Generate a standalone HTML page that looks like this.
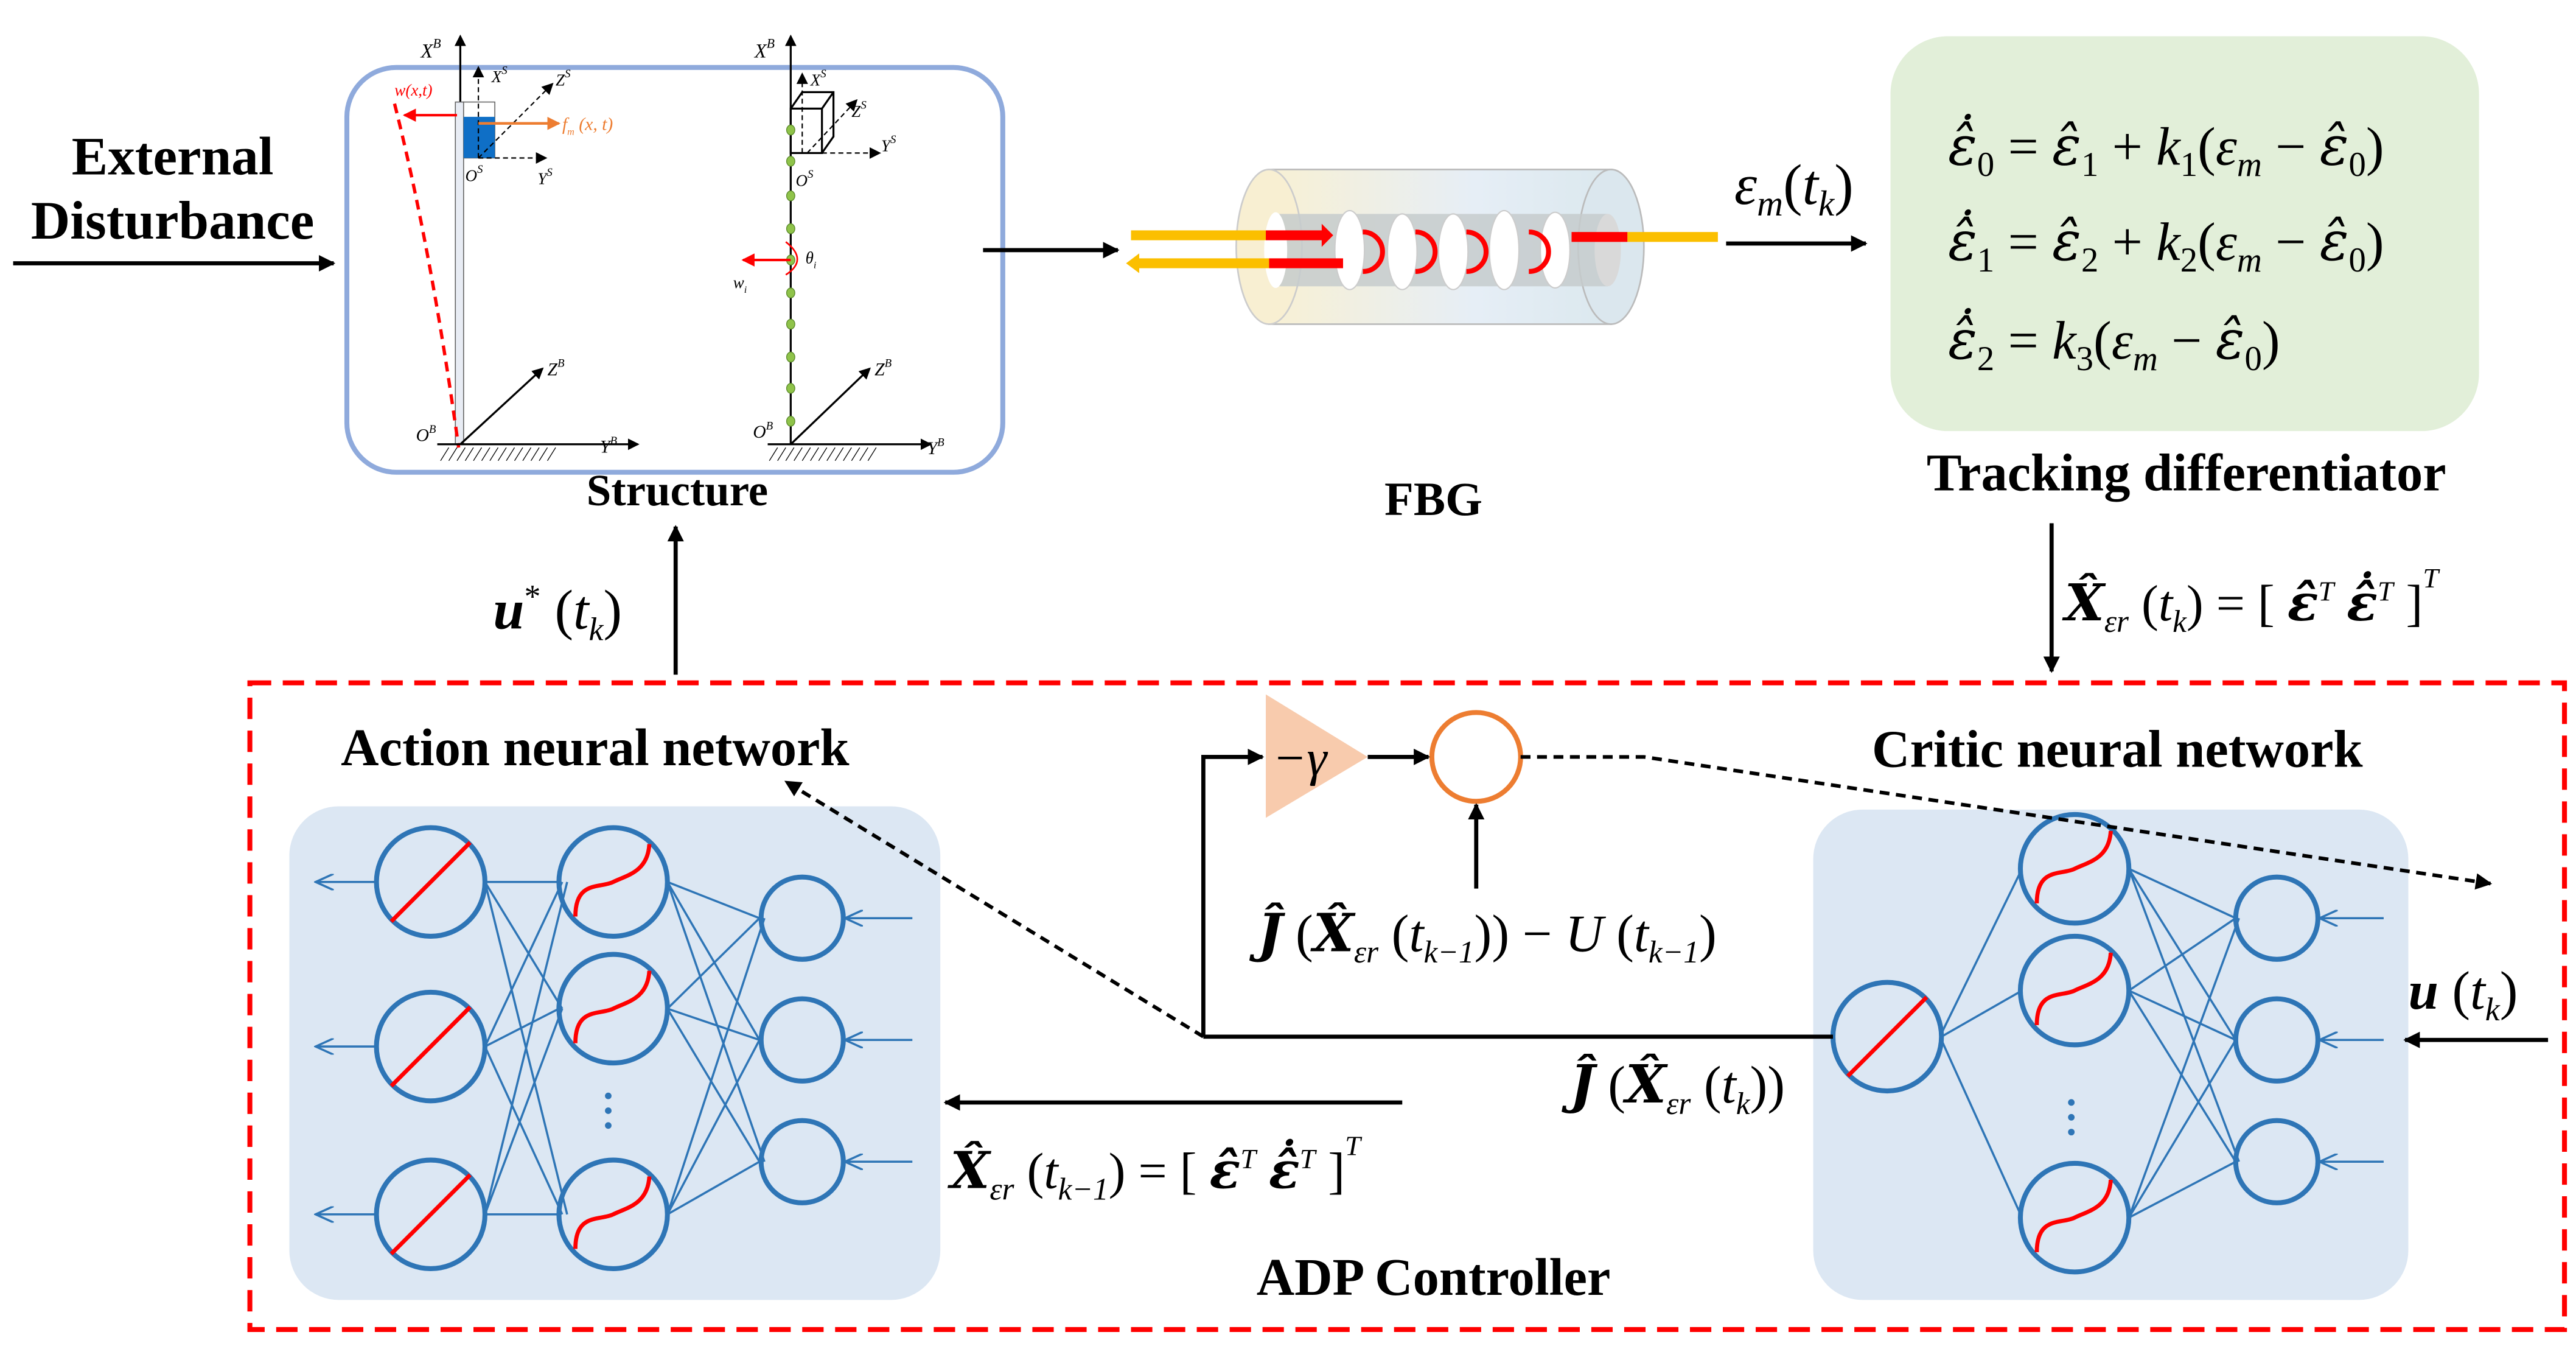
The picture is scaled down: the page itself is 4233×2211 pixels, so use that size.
<!DOCTYPE html>
<html><head><meta charset="utf-8"><style>
html,body{margin:0;padding:0;background:#fff}
svg{display:block}
text{font-family:"Liberation Serif","DejaVu Serif",serif}
.b{font-weight:bold}
.i{font-style:italic}
.h{font-family:"DejaVu Serif",serif}
.n{font-style:normal;font-weight:normal}
.n.i{font-style:italic}
</style></head><body>
<svg width="4233" height="2211" viewBox="0 0 1567 818" preserveAspectRatio="none" xmlns="http://www.w3.org/2000/svg">
<defs>
<marker id="ah" markerWidth="10" markerHeight="10" refX="9" refY="5" orient="auto" markerUnits="userSpaceOnUse"><path d="M0,0 L10,5 L0,10 z" fill="#000"/></marker>
<marker id="ahs" markerWidth="7" markerHeight="7" refX="6" refY="3.5" orient="auto" markerUnits="userSpaceOnUse"><path d="M0,0 L7,3.5 L0,7 z" fill="#000"/></marker>
<marker id="ahb" markerWidth="12" markerHeight="10" refX="11" refY="5" orient="auto" markerUnits="userSpaceOnUse"><path d="M0,0 L11,5 L0,10" fill="none" stroke="#2e75b6" stroke-width="1.3"/></marker>
<marker id="ahr" markerWidth="8" markerHeight="8" refX="7" refY="4" orient="auto" markerUnits="userSpaceOnUse"><path d="M0,0 L8,4 L0,8 z" fill="red"/></marker>
<marker id="aho" markerWidth="8" markerHeight="8" refX="7" refY="4" orient="auto" markerUnits="userSpaceOnUse"><path d="M0,0 L8,4 L0,8 z" fill="#ed7d31"/></marker>
<linearGradient id="cyl" x1="0" x2="1"><stop offset="0" stop-color="#f8f0d4"/><stop offset="0.6" stop-color="#e6eef6"/><stop offset="1" stop-color="#dbe8ee"/></linearGradient>
</defs>

<text x="105" y="106" class="b" font-size="33" text-anchor="middle">External</text>
<text x="105" y="145" class="b" font-size="33" text-anchor="middle">Disturbance</text>
<line x1="8" y1="160" x2="203" y2="160" stroke="#000" stroke-width="2.5" marker-end="url(#ah)"/>

<rect x="211" y="41" width="399" height="246" rx="30" fill="#fff" stroke="#8faadc" stroke-width="3"/>
<line x1="280" y1="270" x2="280" y2="22" stroke="#000" stroke-width="1.2" marker-end="url(#ahs)"/>
<text x="256" y="35" class="i" font-size="12">X<tspan font-size="8" dy="-6">B</tspan></text>
<rect x="277" y="62" width="5" height="208" fill="#e8ecf4" stroke="#666" stroke-width="0.6"/>
<rect x="282" y="62" width="19" height="34" fill="#fff" stroke="#666" stroke-width="0.6"/>
<rect x="282" y="71" width="19" height="25" fill="#0f6fc6"/>
<line x1="291" y1="96" x2="291" y2="41" stroke="#000" stroke-width="0.8" stroke-dasharray="3,2" marker-end="url(#ahs)"/>
<text x="299" y="50" class="i" font-size="10">X<tspan font-size="7" dy="-5">S</tspan></text>
<line x1="291" y1="96" x2="332" y2="96" stroke="#000" stroke-width="0.8" stroke-dasharray="3,2" marker-end="url(#ahs)"/>
<text x="327" y="112" class="i" font-size="10">Y<tspan font-size="7" dy="-5">S</tspan></text>
<line x1="291" y1="96" x2="336" y2="51" stroke="#000" stroke-width="0.8" stroke-dasharray="3,2" marker-end="url(#ahs)"/>
<text x="338" y="52" class="i" font-size="10">Z<tspan font-size="7" dy="-5">S</tspan></text>
<text x="283" y="110" class="i" font-size="10">O<tspan font-size="7" dy="-5">S</tspan></text>
<line x1="291" y1="75" x2="340" y2="75" stroke="#ed7d31" stroke-width="1.6" marker-end="url(#aho)"/>
<text x="342" y="79" class="i" font-size="11" fill="#ed7d31">f<tspan font-size="6" dy="3">m</tspan><tspan dy="-3"> (x, t)</tspan></text>
<line x1="278" y1="70" x2="246" y2="70" stroke="red" stroke-width="1.5" marker-end="url(#ahr)"/>
<text x="240" y="58" class="i" font-size="10" fill="red">w(x,t)</text>
<path d="M240,63 Q262,150 279,272" fill="none" stroke="red" stroke-width="2" stroke-dasharray="6,4"/>
<line x1="266" y1="270" x2="388" y2="270" stroke="#000" stroke-width="1.2" marker-end="url(#ahs)"/>
<text x="365" y="275" class="i" font-size="11">Y<tspan font-size="7" dy="-5">B</tspan></text>
<line x1="280" y1="270" x2="330" y2="224" stroke="#000" stroke-width="1.2" marker-end="url(#ahs)"/>
<text x="333" y="228" class="i" font-size="11">Z<tspan font-size="7" dy="-5">B</tspan></text>
<text x="253" y="268" class="i" font-size="11">O<tspan font-size="7" dy="-5">B</tspan></text>
<path d="M268,280 l5,-8 M273,280 l5,-8 M278,280 l5,-8 M283,280 l5,-8 M288,280 l5,-8 M293,280 l5,-8 M298,280 l5,-8 M303,280 l5,-8 M308,280 l5,-8 M313,280 l5,-8 M318,280 l5,-8 M323,280 l5,-8 M328,280 l5,-8 M333,280 l5,-8" stroke="#000" stroke-width="0.5"/>
<line x1="481" y1="270" x2="481" y2="22" stroke="#000" stroke-width="1.2" marker-end="url(#ahs)"/>
<text x="459" y="35" class="i" font-size="12">X<tspan font-size="8" dy="-6">B</tspan></text>
<line x1="488" y1="93" x2="488" y2="45" stroke="#000" stroke-width="0.8" stroke-dasharray="3,2" marker-end="url(#ahs)"/>
<text x="493" y="52" class="i" font-size="10">X<tspan font-size="7" dy="-5">S</tspan></text>
<path d="M481,66 l7,-10 h19 v27 l-7,10 M500,66 l7,-10" fill="none" stroke="#000" stroke-width="1.2"/>
<rect x="481" y="66" width="19" height="27" fill="none" stroke="#000" stroke-width="1.2"/>
<line x1="500" y1="93" x2="535" y2="93" stroke="#000" stroke-width="0.8" stroke-dasharray="3,2" marker-end="url(#ahs)"/>
<text x="536" y="92" class="i" font-size="10">Y<tspan font-size="7" dy="-5">S</tspan></text>
<line x1="491" y1="93" x2="521" y2="61" stroke="#000" stroke-width="0.8" stroke-dasharray="3,2" marker-end="url(#ahs)"/>
<text x="518" y="71" class="i" font-size="10">Z<tspan font-size="7" dy="-5">S</tspan></text>
<text x="484" y="113" class="i" font-size="10">O<tspan font-size="7" dy="-5">S</tspan></text>
<g fill="#8fc34a" stroke="#5a8a2a" stroke-width="0.5">
<ellipse cx="481" cy="79" rx="2.5" ry="3"/><ellipse cx="481" cy="98" rx="2.5" ry="3"/><ellipse cx="481" cy="119" rx="2.5" ry="3"/><ellipse cx="481" cy="139" rx="2.5" ry="3"/><ellipse cx="481" cy="158" rx="2.5" ry="3"/><ellipse cx="481" cy="178" rx="2.5" ry="3"/><ellipse cx="481" cy="197" rx="2.5" ry="3"/><ellipse cx="481" cy="217" rx="2.5" ry="3"/><ellipse cx="481" cy="236" rx="2.5" ry="3"/><ellipse cx="481" cy="256" rx="2.5" ry="3"/>
</g>
<line x1="481" y1="158" x2="452" y2="158" stroke="red" stroke-width="1.5" marker-end="url(#ahr)"/>
<path d="M478,147 Q492,158 478,167" fill="none" stroke="red" stroke-width="1"/>
<text x="490" y="160" class="i" font-size="10">θ<tspan font-size="6" dy="3">i</tspan></text>
<text x="446" y="175" class="i" font-size="10">w<tspan font-size="6" dy="3">i</tspan></text>
<line x1="467" y1="270" x2="566" y2="270" stroke="#000" stroke-width="1.2" marker-end="url(#ahs)"/>
<text x="564" y="276" class="i" font-size="11">Y<tspan font-size="7" dy="-5">B</tspan></text>
<line x1="481" y1="270" x2="529" y2="224" stroke="#000" stroke-width="1.2" marker-end="url(#ahs)"/>
<text x="532" y="228" class="i" font-size="11">Z<tspan font-size="7" dy="-5">B</tspan></text>
<text x="458" y="266" class="i" font-size="11">O<tspan font-size="7" dy="-5">B</tspan></text>
<path d="M468,280 l5,-8 M473,280 l5,-8 M478,280 l5,-8 M483,280 l5,-8 M488,280 l5,-8 M493,280 l5,-8 M498,280 l5,-8 M503,280 l5,-8 M508,280 l5,-8 M513,280 l5,-8 M518,280 l5,-8 M523,280 l5,-8 M528,280 l5,-8" stroke="#000" stroke-width="0.5"/>
<text x="412" y="307" class="b" font-size="27" text-anchor="middle">Structure</text>

<line x1="598" y1="152" x2="680" y2="152" stroke="#000" stroke-width="2.5" marker-end="url(#ah)"/>

<rect x="772" y="103" width="208" height="94" fill="url(#cyl)" stroke="#bbb" stroke-width="1"/>
<ellipse cx="980" cy="150" rx="20" ry="47" fill="#dbe7ee" stroke="#bbb" stroke-width="1"/>
<ellipse cx="772" cy="150" rx="20" ry="47" fill="#f8efd2" stroke="#ccc" stroke-width="1"/>
<rect x="774" y="130" width="204" height="44" fill="#c5cbcc" opacity="0.85"/>
<ellipse cx="776" cy="152" rx="7" ry="23" fill="#fff"/>
<ellipse cx="978" cy="152" rx="8" ry="22" fill="#d9d9d9"/>
<g fill="#fff" stroke="#ccc" stroke-width="0.8">
<ellipse cx="821" cy="152" rx="9" ry="24"/><ellipse cx="853" cy="153" rx="9" ry="23"/><ellipse cx="884" cy="153" rx="9" ry="23"/><ellipse cx="915" cy="152" rx="9" ry="24"/><ellipse cx="946" cy="152" rx="9" ry="23"/>
</g>
<g fill="none" stroke="red" stroke-width="3">
<path d="M829,141 a12,12 0 0 1 0,24"/><path d="M861,141 a12,12 0 0 1 0,24"/><path d="M892,141 a12,12 0 0 1 0,24"/><path d="M930,141 a12,12 0 0 1 0,24"/>
</g>
<rect x="688" y="140" width="82" height="6" fill="#fbbf00"/>
<rect x="770" y="140" width="35" height="6" fill="red"/>
<path d="M804,136 L811,143 L804,150 z" fill="red"/>
<rect x="692" y="157" width="80" height="6" fill="#fbbf00"/>
<path d="M685,160 L693,154 L693,166 z" fill="#fbbf00"/>
<rect x="772" y="157" width="45" height="6" fill="red"/>
<rect x="956" y="141" width="34" height="6" fill="red"/>
<rect x="990" y="141" width="55" height="6" fill="#fbbf00"/>
<text x="872" y="313" class="b" font-size="29" text-anchor="middle">FBG</text>

<text x="1055" y="124" class="i" font-size="35">ε<tspan font-size="22" dy="7">m</tspan><tspan dy="-7" class="n">(</tspan>t<tspan font-size="22" dy="7">k</tspan><tspan dy="-7" class="n">)</tspan></text>
<line x1="1050" y1="148" x2="1135" y2="148" stroke="#000" stroke-width="2.5" marker-end="url(#ah)"/>

<rect x="1150" y="22" width="358" height="240" rx="35" fill="#e2efd9"/>
<g class="i" font-size="33">
<text x="1185" y="100"><tspan class="h">ε̂̇</tspan><tspan font-size="21" dy="7" class="n">0</tspan><tspan dy="-7" class="n"> = </tspan><tspan class="h">ε̂</tspan><tspan font-size="21" dy="7" class="n">1</tspan><tspan dy="-7" class="n"> + </tspan>k<tspan font-size="21" dy="7" class="n">1</tspan><tspan dy="-7" class="n">(</tspan>ε<tspan font-size="21" dy="7">m</tspan><tspan dy="-7" class="n"> − </tspan><tspan class="h">ε̂</tspan><tspan font-size="21" dy="7" class="n">0</tspan><tspan dy="-7" class="n">)</tspan></text>
<text x="1185" y="158"><tspan class="h">ε̂̇</tspan><tspan font-size="21" dy="7" class="n">1</tspan><tspan dy="-7" class="n"> = </tspan><tspan class="h">ε̂</tspan><tspan font-size="21" dy="7" class="n">2</tspan><tspan dy="-7" class="n"> + </tspan>k<tspan font-size="21" dy="7" class="n">2</tspan><tspan dy="-7" class="n">(</tspan>ε<tspan font-size="21" dy="7">m</tspan><tspan dy="-7" class="n"> − </tspan><tspan class="h">ε̂</tspan><tspan font-size="21" dy="7" class="n">0</tspan><tspan dy="-7" class="n">)</tspan></text>
<text x="1185" y="218"><tspan class="h">ε̂̇</tspan><tspan font-size="21" dy="7" class="n">2</tspan><tspan dy="-7" class="n"> = </tspan>k<tspan font-size="21" dy="7" class="n">3</tspan><tspan dy="-7" class="n">(</tspan>ε<tspan font-size="21" dy="7">m</tspan><tspan dy="-7" class="n"> − </tspan><tspan class="h">ε̂</tspan><tspan font-size="21" dy="7" class="n">0</tspan><tspan dy="-7" class="n">)</tspan></text>
</g>
<text x="1330" y="298" class="b" font-size="32" text-anchor="middle">Tracking differentiator</text>

<line x1="1248" y1="318" x2="1248" y2="408" stroke="#000" stroke-width="2.5" marker-end="url(#ah)"/>
<text x="1256" y="377" class="i b" font-size="31"><tspan class="h">X̂</tspan><tspan font-size="19" dy="7" class="n i">εr</tspan><tspan dy="-7" class="n"> (</tspan><tspan class="n i">t</tspan><tspan font-size="19" dy="7" class="n i">k</tspan><tspan dy="-7" class="n">) = [ </tspan><tspan class="h">ε̂</tspan><tspan font-size="17" dy="-12" class="n i">T</tspan><tspan dy="12">  </tspan><tspan class="h">ε̂̇</tspan><tspan font-size="17" dy="-12" class="n i">T</tspan><tspan dy="12" class="n"> ]</tspan><tspan font-size="17" dy="-20" class="n i">T</tspan></text>

<text x="300" y="382" class="i b" font-size="34">u<tspan font-size="20" dy="-13" class="n">*</tspan><tspan dy="13" class="n"> (</tspan><tspan class="n i">t</tspan><tspan font-size="20" dy="7" class="n i">k</tspan><tspan dy="-7" class="n">)</tspan></text>
<line x1="411" y1="410" x2="411" y2="320" stroke="#000" stroke-width="2.5" marker-end="url(#ah)"/>

<rect x="152" y="415" width="1408" height="393" fill="none" stroke="red" stroke-width="3" stroke-dasharray="13,7"/>
<text x="362" y="465" class="b" font-size="32" text-anchor="middle">Action neural network</text>
<text x="1288" y="466" class="b" font-size="32" text-anchor="middle">Critic neural network</text>
<text x="872" y="787" class="b" font-size="32" text-anchor="middle">ADP Controller</text>

<rect x="176" y="490" width="396" height="300" rx="30" fill="#dce7f3"/>
<rect x="1103" y="492" width="362" height="298" rx="30" fill="#dce7f3"/>

<g stroke="#2e75b6" stroke-width="1.3" fill="none">
<path d="M295,536 L340,536 M295,536 L342,613 M295,536 L345,738 M295,636 L342,536 M295,636 L340,613 M295,636 L342,738 M295,738 L345,536 M295,738 L342,613 M295,738 L340,738"/>
<path d="M406,536 L462,558 M406,536 L462,632 M406,536 L465,706 M406,613 L462,558 M406,613 L462,632 M406,613 L462,706 M406,738 L465,558 M406,738 L462,632 M406,738 L462,706"/>
<line x1="555" y1="558" x2="514" y2="558" marker-end="url(#ahb)"/>
<line x1="555" y1="632" x2="514" y2="632" marker-end="url(#ahb)"/>
<line x1="555" y1="706" x2="514" y2="706" marker-end="url(#ahb)"/>
<line x1="229" y1="536" x2="192" y2="536" marker-end="url(#ahb)"/>
<line x1="229" y1="636" x2="192" y2="636" marker-end="url(#ahb)"/>
<line x1="229" y1="738" x2="192" y2="738" marker-end="url(#ahb)"/>
</g>
<g stroke="#2e75b6" stroke-width="3" fill="none">
<circle cx="262" cy="536" r="33"/><circle cx="262" cy="636" r="33"/><circle cx="262" cy="738" r="33"/>
<circle cx="373" cy="536" r="33"/><circle cx="373" cy="613" r="33"/><circle cx="373" cy="738" r="33"/>
<circle cx="488" cy="558" r="25"/><circle cx="488" cy="632" r="25"/><circle cx="488" cy="706" r="25"/>
</g>
<g stroke="red" stroke-width="2.5" fill="none">
<line x1="238" y1="560" x2="286" y2="512"/><line x1="238" y1="660" x2="286" y2="612"/><line x1="238" y1="762" x2="286" y2="714"/>
<path d="M350,557 C350,535 365,540 373,536 C381,532 394,530 395,513"/>
<path d="M350,634 C350,612 365,617 373,613 C381,609 394,607 395,590"/>
<path d="M350,759 C350,737 365,742 373,738 C381,734 394,732 395,715"/>
</g>
<g fill="#2e75b6"><circle cx="370" cy="666" r="2"/><circle cx="370" cy="675" r="2"/><circle cx="370" cy="684" r="2"/></g>

<g stroke="#2e75b6" stroke-width="1.3" fill="none">
<path d="M1230,528 L1181,628 M1230,602 L1181,630 M1230,740 L1181,632"/>
<path d="M1295,528 L1360,558 M1295,528 L1360,632 M1295,528 L1362,706 M1295,602 L1360,558 M1295,602 L1360,632 M1295,602 L1360,706 M1295,740 L1362,558 M1295,740 L1360,632 M1295,740 L1360,706"/>
<line x1="1450" y1="558" x2="1411" y2="558" marker-end="url(#ahb)"/>
<line x1="1450" y1="632" x2="1411" y2="632" marker-end="url(#ahb)"/>
<line x1="1450" y1="706" x2="1411" y2="706" marker-end="url(#ahb)"/>
</g>
<g stroke="#2e75b6" stroke-width="3" fill="none">
<circle cx="1148" cy="630" r="33"/>
<circle cx="1262" cy="528" r="33"/><circle cx="1262" cy="602" r="33"/><circle cx="1262" cy="740" r="33"/>
<circle cx="1385" cy="558" r="25"/><circle cx="1385" cy="632" r="25"/><circle cx="1385" cy="706" r="25"/>
</g>
<g stroke="red" stroke-width="2.5" fill="none">
<line x1="1124" y1="654" x2="1172" y2="606"/>
<path d="M1239,549 C1239,527 1254,532 1262,528 C1270,524 1283,522 1284,505"/>
<path d="M1239,623 C1239,601 1254,606 1262,602 C1270,598 1283,596 1284,579"/>
<path d="M1239,761 C1239,739 1254,744 1262,740 C1270,736 1283,734 1284,717"/>
</g>
<g fill="#2e75b6"><circle cx="1260" cy="670" r="2"/><circle cx="1260" cy="679" r="2"/><circle cx="1260" cy="688" r="2"/></g>

<path d="M770,422 L770,497 L832,460 z" fill="#f8cbad"/>
<text x="774" y="471" class="i" font-size="31">−γ</text>
<circle cx="898" cy="460" r="27" fill="#fff" stroke="#ed7d31" stroke-width="3"/>
<line x1="832" y1="460" x2="869" y2="460" stroke="#000" stroke-width="2.5" marker-end="url(#ah)"/>
<polyline points="732,630 732,460 768,460" fill="none" stroke="#000" stroke-width="2.5" marker-end="url(#ah)"/>
<line x1="898" y1="540" x2="898" y2="489" stroke="#000" stroke-width="2.5" marker-end="url(#ah)"/>
<polyline points="925,460 1000,460 1515,537" fill="none" stroke="#000" stroke-width="2.2" stroke-dasharray="6,4" marker-end="url(#ah)"/>
<line x1="732" y1="630" x2="478" y2="475" stroke="#000" stroke-width="2.2" stroke-dasharray="6,4" marker-end="url(#ah)"/>
<line x1="732" y1="630" x2="1115" y2="630" stroke="#000" stroke-width="2.5"/>

<text x="765" y="578" class="i b" font-size="32"><tspan class="h">Ĵ</tspan><tspan class="n"> (</tspan><tspan class="h">X̂</tspan><tspan font-size="19" dy="7" class="n i">εr</tspan><tspan dy="-7" class="n"> (</tspan><tspan class="n i">t</tspan><tspan font-size="19" dy="7" class="n i">k−1</tspan><tspan dy="-7" class="n">)) − </tspan><tspan class="n i">U</tspan><tspan class="n"> (</tspan><tspan class="n i">t</tspan><tspan font-size="19" dy="7" class="n i">k−1</tspan><tspan dy="-7" class="n">)</tspan></text>

<text x="955" y="670" class="i b" font-size="32"><tspan class="h">Ĵ</tspan><tspan class="n"> (</tspan><tspan class="h">X̂</tspan><tspan font-size="19" dy="7" class="n i">εr</tspan><tspan dy="-7" class="n"> (</tspan><tspan class="n i">t</tspan><tspan font-size="19" dy="7" class="n i">k</tspan><tspan dy="-7" class="n">))</tspan></text>

<text x="1465" y="613" class="i b" font-size="33">u<tspan class="n"> (</tspan><tspan class="n i">t</tspan><tspan font-size="20" dy="7" class="n i">k</tspan><tspan dy="-7" class="n">)</tspan></text>
<line x1="1550" y1="632" x2="1463" y2="632" stroke="#000" stroke-width="2.5" marker-end="url(#ah)"/>

<line x1="853" y1="670" x2="575" y2="670" stroke="#000" stroke-width="2.5" marker-end="url(#ah)"/>
<text x="578" y="722" class="i b" font-size="31"><tspan class="h">X̂</tspan><tspan font-size="19" dy="7" class="n i">εr</tspan><tspan dy="-7" class="n"> (</tspan><tspan class="n i">t</tspan><tspan font-size="19" dy="7" class="n i">k−1</tspan><tspan dy="-7" class="n">) = [ </tspan><tspan class="h">ε̂</tspan><tspan font-size="17" dy="-12" class="n i">T</tspan><tspan dy="12">  </tspan><tspan class="h">ε̂̇</tspan><tspan font-size="17" dy="-12" class="n i">T</tspan><tspan dy="12" class="n"> ]</tspan><tspan font-size="17" dy="-20" class="n i">T</tspan></text>
</svg>
</body></html>
